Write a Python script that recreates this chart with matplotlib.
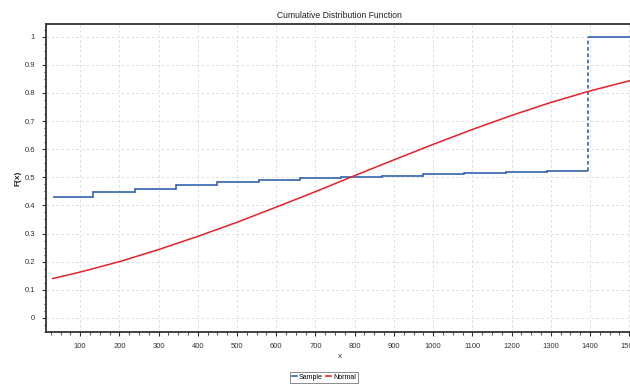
import matplotlib.pyplot as plt
from matplotlib.ticker import MultipleLocator, AutoMinorLocator
from matplotlib.lines import Line2D

# sample CDF steps (left edge of each step and its level)
step_x = [30, 133, 240, 345, 450, 555, 660, 765, 870, 975, 1080, 1185, 1290, 1395]
step_y = [0.43, 0.448, 0.46, 0.474, 0.484, 0.49, 0.498, 0.502, 0.505, 0.51, 0.514, 0.518, 0.523, 1.0]
x_end = 1520

# fitted normal CDF
norm_x = [30, 100, 200, 300, 400, 500, 600, 700, 800, 900, 1000, 1100, 1200, 1300, 1400, 1500, 1520]
norm_y = [0.14, 0.163, 0.2, 0.243, 0.29, 0.34, 0.394, 0.449, 0.506, 0.562, 0.617, 0.67, 0.72,
          0.766, 0.807, 0.843, 0.85]

plt.rcParams['font.family'] = ['Liberation Sans', 'DejaVu Sans']
plt.rcParams['font.size'] = 5.5

fig = plt.figure(figsize=(6.3, 3.85), dpi=100)
ax = fig.add_axes([0.073, 0.1377, 0.932, 0.80])

blue = '#3464ae'
red = '#e8202a'

# horizontal parts of the step function, solid
for i in range(len(step_x)):
    x1 = step_x[i + 1] if i + 1 < len(step_x) else x_end
    ax.plot([step_x[i], x1], [step_y[i], step_y[i]], color=blue, lw=1.2, solid_capstyle='butt')
# vertical risers, the big jump is dashed
for i in range(1, len(step_x)):
    ls = (0, (2.2, 1.6)) if step_y[i] - step_y[i - 1] > 0.1 else '-'
    ax.plot([step_x[i], step_x[i]], [step_y[i - 1], step_y[i]], color=blue, lw=1.2, ls=ls)

ax.plot(norm_x, norm_y, color=red, lw=1.1)

ax.set_xlim(13, 1510)
ax.set_ylim(-0.05, 1.045)
ax.xaxis.set_minor_locator(AutoMinorLocator(4))
ax.set_yticks([0, 0.1, 0.2, 0.3, 0.4, 0.5, 0.6, 0.7, 0.8, 0.9, 1.0])
ax.set_yticklabels(['0', '0.1', '0.2', '0.3', '0.4', '0.5', '0.6', '0.7', '0.8', '0.9', '1'])
ax.yaxis.set_minor_locator(AutoMinorLocator(4))
ax.set_xticks(range(100, 1600, 100))
ax.set_xticklabels([str(v) for v in range(100, 1600, 100)])
ax.xaxis.set_minor_locator(MultipleLocator(25))

ax.tick_params(which='major', length=3, width=0.8, color='#333333', labelcolor='#333333', pad=5)
ax.tick_params(which='minor', length=1.8, width=0.6, color='#333333')
ax.grid(True, which='major', color='#d8d8d8', ls=(0, (3, 3)), lw=0.6)

for side in ['left', 'bottom', 'top']:
    ax.spines[side].set_color('#333333')
    ax.spines[side].set_linewidth(1.3)
ax.spines['right'].set_visible(False)

ax.set_title('Cumulative Distribution Function', fontsize=6.2, color='#222222', pad=4)
ax.set_xlabel('x', fontsize=6, color='#333333', labelpad=2)
ax.set_ylabel('F(x)', fontsize=6, color='#222222', labelpad=2, fontweight='bold')

handles = [Line2D([], [], color=blue, lw=1.2), Line2D([], [], color=red, lw=1.2)]
leg = fig.legend(handles, ['Sample', 'Normal'], loc='center', bbox_to_anchor=(0.514, 0.02),
                 ncol=2, fontsize=5, frameon=True, fancybox=False, handlelength=0.7,
                 handletextpad=0.3, columnspacing=0.5, borderpad=0.3, borderaxespad=0)
leg.get_frame().set_edgecolor('#555555')
leg.get_frame().set_linewidth(0.6)

fig.savefig('out.png', dpi=100)
